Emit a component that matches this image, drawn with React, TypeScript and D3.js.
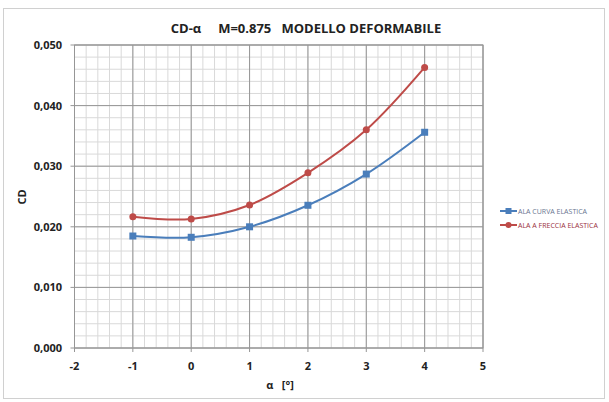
import React from "react";
import * as d3 from "d3";

const alphas = [-1, 0, 1, 2, 3, 4];
const cdCurva = [0.01848, 0.01827, 0.0200, 0.02355, 0.0287, 0.0356];
const cdFreccia = [0.02167, 0.0213, 0.0236, 0.0289, 0.0360, 0.0463];
const xTicks = [-2, -1, 0, 1, 2, 3, 4, 5];
const yTicks = [0, 0.01, 0.02, 0.03, 0.04, 0.05];
const seriesNames = ["ALA CURVA ELASTICA", "ALA A FRECCIA ELASTICA"];
const title = "CD-α     M=0.875   MODELLO DEFORMABILE";

const W = 609, H = 402;
const L = 74.5, R = 483, T = 45, B = 348;

export default function App() {
  const x = d3.scaleLinear().domain([-2, 5]).range([L, R]);
  const y = d3.scaleLinear().domain([0, 0.05]).range([B, T]);
  const minorX = d3.range(-2, 5.0001, 0.2);
  const minorY = d3.range(0, 0.05001, 0.002);
  const line = d3
    .line<[number, number]>()
    .x((d) => x(d[0]))
    .y((d) => y(d[1]))
    .curve(d3.curveCatmullRom.alpha(0.5));
  const blue = "#4a7ebb";
  const red = "#be4b48";
  const dBlue = alphas.map((a, i) => [a, cdCurva[i]] as [number, number]);
  const dRed = alphas.map((a, i) => [a, cdFreccia[i]] as [number, number]);
  const font = "'Open Sans', 'Liberation Sans', sans-serif";
  return (
    <svg width={W} height={H} style={{ position: "absolute", left: 0, top: 0, background: "#fff" }} fontFamily={font}>
      <rect x={3.5} y={8.5} width={601} height={390} fill="#fff" stroke="#d0d0d0" />
      <text x={306} y={33} textAnchor="middle" fontSize={13} fontWeight="bold" style={{ whiteSpace: "pre" }} fill="#222">
        {title}
      </text>
      {minorX.map((v, i) => (
        <line key={"mx" + i} x1={x(v)} x2={x(v)} y1={T} y2={B} stroke="#d9d9d9" strokeWidth={1} />
      ))}
      {minorY.map((v, i) => (
        <line key={"my" + i} x1={L} x2={R} y1={y(v)} y2={y(v)} stroke="#d9d9d9" strokeWidth={1} />
      ))}
      {xTicks.map((v) => (
        <line key={"Mx" + v} x1={x(v)} x2={x(v)} y1={T} y2={B} stroke="#969696" strokeWidth={1} />
      ))}
      {yTicks.map((v) => (
        <line key={"My" + v} x1={L} x2={R} y1={y(v)} y2={y(v)} stroke="#969696" strokeWidth={1} />
      ))}
      <rect x={L} y={T} width={R - L} height={B - T} fill="none" stroke="#969696" />
      {xTicks.map((v) => (
        <line key={"tx" + v} x1={x(v)} x2={x(v)} y1={B} y2={B + 4} stroke="#969696" />
      ))}
      {yTicks.map((v) => (
        <line key={"ty" + v} x1={L - 4} x2={L} y1={y(v)} y2={y(v)} stroke="#969696" />
      ))}
      {yTicks.map((v) => (
        <text key={"yl" + v} x={62} y={y(v) + 4} textAnchor="end" fontSize={11} fontWeight="bold" fill="#222">
          {d3.format(".3f")(v).replace(".", ",")}
        </text>
      ))}
      {xTicks.map((v) => (
        <text key={"xl" + v} x={x(v)} y={370} textAnchor="middle" fontSize={11} fontWeight="bold" fill="#222">
          {v}
        </text>
      ))}
      <text transform="translate(26,197) rotate(-90)" textAnchor="middle" fontSize={11} fontWeight="bold" fill="#222">
        CD
      </text>
      <text x={280} y={389} textAnchor="middle" fontSize={11} fontWeight="bold" fill="#222" style={{ whiteSpace: "pre" }}>
        {"α   [°]"}
      </text>
      <path d={line(dBlue) || ""} fill="none" stroke={blue} strokeWidth={2} />
      <path d={line(dRed) || ""} fill="none" stroke={red} strokeWidth={2} />
      {dBlue.map((d, i) => (
        <rect key={"bm" + i} x={x(d[0]) - 3.5} y={y(d[1]) - 3.5} width={7} height={7} fill={blue} />
      ))}
      {dRed.map((d, i) => (
        <circle key={"rm" + i} cx={x(d[0])} cy={y(d[1])} r={3.5} fill={red} />
      ))}
      <g>
        <line x1={500} x2={517} y1={211} y2={211} stroke={blue} strokeWidth={2} />
        <rect x={505.5} y={208} width={6} height={6} fill={blue} />
        <text x={518} y={213.5} fontSize={7} fill="#6a7590">{seriesNames[0]}</text>
        <line x1={500} x2={517} y1={225} y2={225} stroke={red} strokeWidth={2} />
        <circle cx={508.5} cy={225} r={3} fill={red} />
        <text x={518} y={227.5} fontSize={7} fill="#9a3040">{seriesNames[1]}</text>
      </g>
    </svg>
  );
}
